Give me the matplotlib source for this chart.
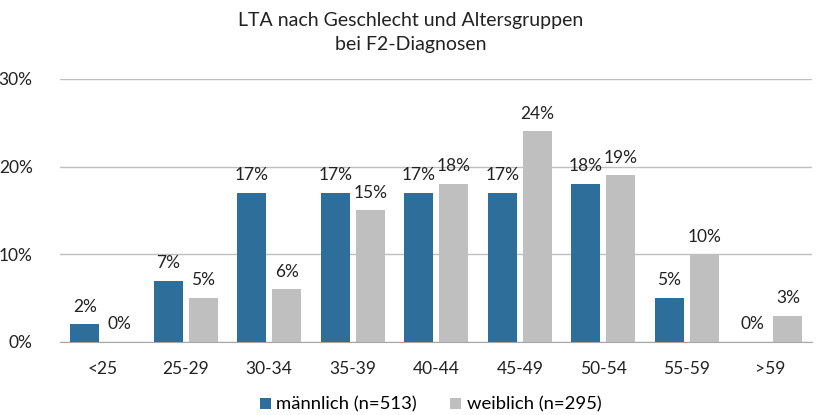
import matplotlib.pyplot as plt
import numpy as np

plt.rcParams['font.family'] = ['Lato', 'DejaVu Sans']

# Daten
gruppen = ['<25', '25-29', '30-34', '35-39', '40-44', '45-49', '50-54', '55-59', '>59']
maennlich = [2, 7, 17, 17, 17, 17, 18, 5, 0]
weiblich = [0, 5, 6, 15, 18, 24, 19, 10, 3]
serien = ['männlich (n=513)', 'weiblich (n=295)']
farben = ['#2E6E9A', '#BFBFBF']

fig = plt.figure(figsize=(8.17, 4.15), dpi=100)
ax = fig.add_axes([0.074, 0.176, 0.92, 0.634])

x = np.arange(len(gruppen))
w = 0.35
off = 0.21
b1 = ax.bar(x - off, np.array(maennlich) / 100, w, color=farben[0], label=serien[0], zorder=3)
b2 = ax.bar(x + off, np.array(weiblich) / 100, w, color=farben[1], label=serien[1], zorder=3)

for bars, vals in [(b1, maennlich), (b2, weiblich)]:
    for b, v in zip(bars, vals):
        ax.text(b.get_x() + b.get_width() / 2, v / 100 + 0.011, f'{v}%',
                ha='center', va='bottom', fontsize=12.5, color='#222222')

ax.set_xlim(-0.5, len(gruppen) - 0.5)
ax.set_ylim(0, 0.30)
ax.set_yticks([0, 0.1, 0.2, 0.3])
ax.set_yticklabels(['0%', '10%', '20%', '30%'])
ax.set_xticks(x)
ax.set_xticklabels(gruppen)
ax.tick_params(axis='both', length=0, labelsize=12.5, colors='#222222')
ax.tick_params(axis='x', pad=14)
ax.tick_params(axis='y', pad=20)
ax.grid(axis='y', color='#BFBFBF', linewidth=1, zorder=0)
for s in ['top', 'right', 'left']:
    ax.spines[s].set_visible(False)
ax.spines['bottom'].set_color('#A6A6A6')

fig.suptitle('LTA nach Geschlecht und Altersgruppen\nbei F2-Diagnosen', fontsize=14,
             color='#222222', x=0.503, y=0.972, linespacing=1.5)

fig.legend(loc='lower center', bbox_to_anchor=(0.527, -0.035), ncol=2, frameon=False,
           fontsize=13.3, handlelength=0.6, handleheight=0.6, columnspacing=1.8, handletextpad=0.3)

fig.savefig('out.png', dpi=100)
